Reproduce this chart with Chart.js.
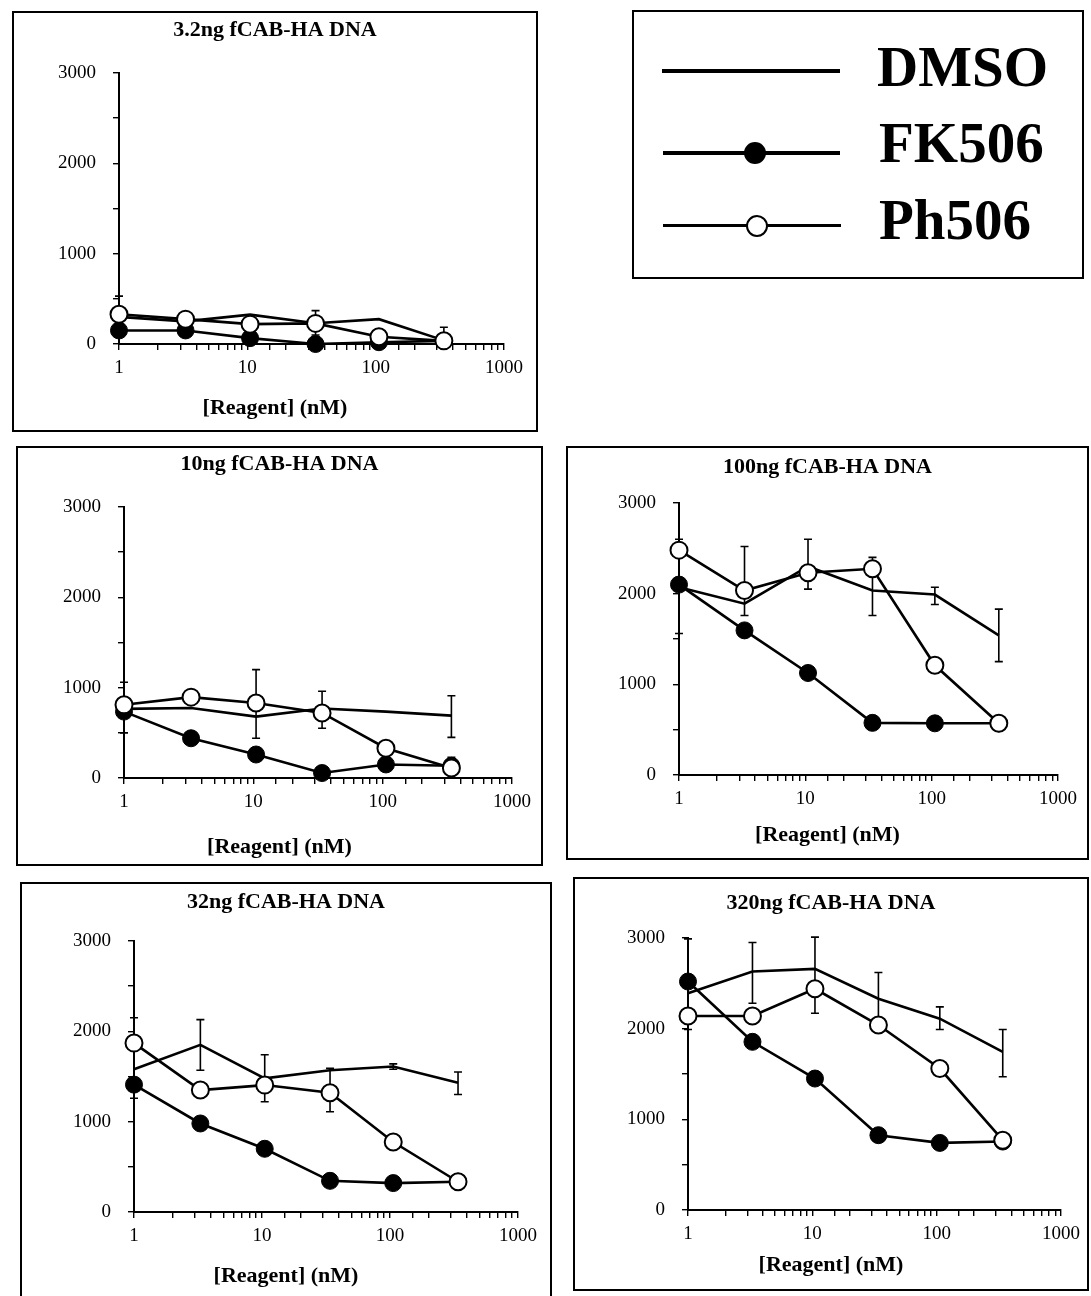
<!DOCTYPE html>
<html>
<head>
<meta charset="utf-8">
<script src="https://cdn.jsdelivr.net/npm/chart.js@4.4.1/dist/chart.umd.min.js"></script>
<style>
html,body{margin:0;padding:0;background:#fff;}
body{width:1091px;height:1296px;position:relative;overflow:hidden;font-family:"Liberation Serif","Times New Roman",serif;}
.box{position:absolute;border:2px solid #000;box-sizing:border-box;background:#fff;}
.box canvas{position:absolute;left:0;top:0;}
.lg-line{position:absolute;background:#000;}
.lg-dot{position:absolute;border-radius:50%;box-sizing:border-box;}
.lg-text{position:absolute;font-weight:bold;font-size:57px;line-height:58px;white-space:nowrap;color:#000;}
</style>
</head>
<body>
<div class="box" style="left:632px;top:10px;width:452px;height:269px;"></div>
<div class="lg-line" style="left:662px;top:69px;width:178px;height:4px;"></div>
<div class="lg-line" style="left:663px;top:151px;width:177px;height:4px;"></div>
<div class="lg-dot" style="left:744px;top:142px;width:22px;height:22px;background:#000;"></div>
<div class="lg-line" style="left:663px;top:224px;width:178px;height:3px;"></div>
<div class="lg-dot" style="left:746px;top:215px;width:22px;height:22px;background:#fff;border:2px solid #000;"></div>
<div class="lg-text" id="lg0" style="left:877px;top:38px;"></div>
<div class="lg-text" id="lg1" style="left:879px;top:114px;"></div>
<div class="lg-text" id="lg2" style="left:879px;top:191px;"></div>
<div id="panels"></div>
<script>
// ---------- data ----------
const concentrations = [1, 3.3, 10.5, 34, 106, 340];
const xTickLabels = [1, 10, 100, 1000];
const yTickLabels = [0, 1000, 2000, 3000];
const seriesNames = ['DMSO', 'FK506', 'Ph506'];
const panelTitles = ['3.2ng fCAB-HA DNA', '10ng fCAB-HA DNA', '100ng fCAB-HA DNA', '32ng fCAB-HA DNA', '320ng fCAB-HA DNA'];
const xAxisTitle = '[Reagent] (nM)';

// 3.2 ng
const dmso_3_2ng = [300, 250, 325, 230, 275, 40];
const fk506_3_2ng = [150, 150, 65, 0, 20, 35];
const ph506_3_2ng = [330, 275, 220, 228, 80, 35];
const dmsoErr_3_2ng = [[100, 530], null, null, [100, 370], null, [0, 185]];
const ph506Err_3_2ng = [null, null, null, null, null, null];

// 10 ng
const dmso_10ng = [765, 775, 680, 770, 735, 690];
const fk506_10ng = [735, 440, 260, 55, 150, 135];
const ph506_10ng = [810, 895, 830, 720, 330, 110];
const dmsoErr_10ng = [[500, 1060], null, [440, 1200], [550, 960], null, [450, 910]];
const ph506Err_10ng = [null, null, null, null, null, [60, 230]];

// 100 ng
const dmso_100ng = [2070, 1890, 2300, 2035, 1990, 1540];
const fk506_100ng = [2100, 1595, 1125, 575, 570, 570];
const ph506_100ng = [2480, 2035, 2230, 2275, 1210, 570];
const dmsoErr_100ng = [[1560, 2600], [1760, 2520], [2050, 2600], [1760, 2400], [1880, 2070], [1250, 1830]];
const ph506Err_100ng = [null, null, null, null, null, null];

// 32 ng
const dmso_32ng = [1580, 1850, 1480, 1570, 1610, 1430];
const fk506_32ng = [1410, 980, 700, 345, 320, 335];
const ph506_32ng = [1870, 1350, 1405, 1320, 775, 335];
const dmsoErr_32ng = [[1260, 2150], [1570, 2130], [1220, 1740], [1110, 1590], [1580, 1640], [1300, 1550]];
const ph506Err_32ng = [null, null, null, null, null, null];

// 320 ng
const dmso_320ng = [2390, 2630, 2660, 2330, 2110, 1745];
const fk506_320ng = [2520, 1855, 1450, 825, 740, 755];
const ph506_320ng = [2140, 2140, 2440, 2040, 1560, 770];
const dmsoErr_320ng = [[1990, 2990], [2280, 2950], [2170, 3010], [2040, 2620], [1990, 2240], [1470, 1990]];
const ph506Err_320ng = [null, null, null, null, null, null];

// ---------- layout (page pixels) ----------
const panelGeom = [
  {L:12,  T:11,  R:538,  B:432,  axisX:119, x1000:504,  y3000:73,  y0:344,  titleY:30,  xTitleY:408},
  {L:16,  T:446, R:543,  B:866,  axisX:124, x1000:512,  y3000:507, y0:778,  titleY:464, xTitleY:847},
  {L:566, T:446, R:1089, B:860,  axisX:679, x1000:1058, y3000:503, y0:775,  titleY:467, xTitleY:835},
  {L:20,  T:882, R:552,  B:1300, axisX:134, x1000:518,  y3000:941, y0:1212, titleY:902, xTitleY:1276},
  {L:573, T:877, R:1089, B:1291, axisX:688, x1000:1062, y3000:938, y0:1210, titleY:903, xTitleY:1265}
];
const panelData = [
  [dmso_3_2ng, fk506_3_2ng, ph506_3_2ng, dmsoErr_3_2ng, ph506Err_3_2ng],
  [dmso_10ng, fk506_10ng, ph506_10ng, dmsoErr_10ng, ph506Err_10ng],
  [dmso_100ng, fk506_100ng, ph506_100ng, dmsoErr_100ng, ph506Err_100ng],
  [dmso_32ng, fk506_32ng, ph506_32ng, dmsoErr_32ng, ph506Err_32ng],
  [dmso_320ng, fk506_320ng, ph506_320ng, dmsoErr_320ng, ph506Err_320ng]
];

document.getElementById('lg0').textContent = seriesNames[0];
document.getElementById('lg1').textContent = seriesNames[1];
document.getElementById('lg2').textContent = seriesNames[2];

const FONT = '"Liberation Serif", "Times New Roman", serif';

const errorBarPlugin = {
  id: 'errorBars',
  beforeDatasetsDraw(chart) {
    const ctx = chart.ctx;
    const xs = chart.scales.x, ys = chart.scales.y;
    ctx.save();
    ctx.strokeStyle = '#000';
    ctx.lineWidth = 1.6;
    chart.data.datasets.forEach(ds => {
      if (!ds.errorBars) return;
      ds.errorBars.forEach((e, j) => {
        if (!e) return;
        const px = xs.getPixelForValue(ds.data[j].x);
        const pLo = ys.getPixelForValue(e[0]);
        const pHi = ys.getPixelForValue(e[1]);
        ctx.beginPath();
        ctx.moveTo(px, pLo); ctx.lineTo(px, pHi);
        ctx.moveTo(px - 4, pLo); ctx.lineTo(px + 4, pLo);
        ctx.moveTo(px - 4, pHi); ctx.lineTo(px + 4, pHi);
        ctx.stroke();
      });
    });
    ctx.restore();
  }
};

const toXY = arr => arr.map((v, i) => ({x: concentrations[i], y: v}));

const host = document.getElementById('panels');
panelGeom.forEach((g, p) => {
  const box = document.createElement('div');
  box.className = 'box';
  box.style.left = g.L + 'px';
  box.style.top = g.T + 'px';
  box.style.width = (g.R - g.L) + 'px';
  box.style.height = (g.B - g.T) + 'px';
  const cv = document.createElement('canvas');
  const cW = g.R - g.L - 4, cH = g.B - g.T - 4;
  cv.width = cW; cv.height = cH;
  cv.style.width = cW + 'px'; cv.style.height = cH + 'px';
  box.appendChild(cv);
  host.appendChild(box);

  const cL = g.L + 2, cT = g.T + 2, cR = cL + cW, cB = cT + cH;
  const side = cR - g.x1000;
  const yWidth = g.axisX - cL - side;
  const tSize = 22, tLh = tSize * 1.2;
  const tPadTop = Math.max(0, g.titleY - cT - tLh / 2);
  const tPadBot = g.y3000 - cT - tPadTop - tLh;
  const sSize = 22, sLh = sSize * 1.2;
  const sPadBot = cB - g.xTitleY - sLh / 2;
  const subH = sLh + sPadBot;
  const xHeight = cB - subH - g.y0;

  const d = panelData[p];
  new Chart(cv, {
    type: 'line',
    data: {
      datasets: [
        {label: seriesNames[0], data: toXY(d[0]), errorBars: d[3], borderColor: '#000', borderWidth: 2.6,
         pointRadius: 0, pointHoverRadius: 0, fill: false, tension: 0, order: 3, clip: false},
        {label: seriesNames[1], data: toXY(d[1]), borderColor: '#000', borderWidth: 2.6,
         pointRadius: 8.5, pointHoverRadius: 8.5, pointBackgroundColor: '#000', pointBorderColor: '#000', pointBorderWidth: 1,
         fill: false, tension: 0, order: 2, clip: false},
        {label: seriesNames[2], data: toXY(d[2]), errorBars: d[4], borderColor: '#000', borderWidth: 2.6,
         pointRadius: 8.5, pointHoverRadius: 8.5, pointBackgroundColor: '#fff', pointBorderColor: '#000', pointBorderWidth: 2,
         fill: false, tension: 0, order: 1, clip: false}
      ]
    },
    options: {
      responsive: false,
      animation: false,
      events: [],
      layout: {padding: {left: side, right: side, top: 0, bottom: 0}},
      plugins: {
        legend: {display: false},
        tooltip: {enabled: false},
        title: {display: true, text: panelTitles[p], color: '#000',
                font: {family: FONT, size: tSize, weight: 'bold', lineHeight: 1.2},
                padding: {top: tPadTop, bottom: tPadBot}},
        subtitle: {display: true, position: 'bottom', text: xAxisTitle, color: '#000',
                   font: {family: FONT, size: sSize, weight: 'bold', lineHeight: 1.2},
                   padding: {top: 0, bottom: sPadBot}}
      },
      scales: {
        x: {
          type: 'logarithmic', min: 1, max: 1000,
          afterFit: s => { s.height = xHeight; },
          border: {display: true, color: '#000', width: 2},
          grid: {display: true, drawOnChartArea: false, drawTicks: true, tickLength: 6, color: '#000', lineWidth: 1.4},
          ticks: {
            autoSkip: false, maxRotation: 0, minRotation: 0, padding: 7, color: '#000',
            font: {family: FONT, size: 19},
            callback: v => xTickLabels.includes(v) ? String(v) : ''
          }
        },
        y: {
          min: 0, max: 3000,
          afterFit: s => { s.width = yWidth; },
          border: {display: true, color: '#000', width: 2},
          grid: {display: true, drawOnChartArea: false, drawTicks: true, tickLength: 6, color: '#000', lineWidth: 1.4},
          ticks: {
            stepSize: 500, padding: 17, color: '#000',
            font: {family: FONT, size: 19},
            callback: v => yTickLabels.includes(v) ? String(v) : ''
          }
        }
      }
    },
    plugins: [errorBarPlugin]
  });
});
</script>
</body>
</html>
